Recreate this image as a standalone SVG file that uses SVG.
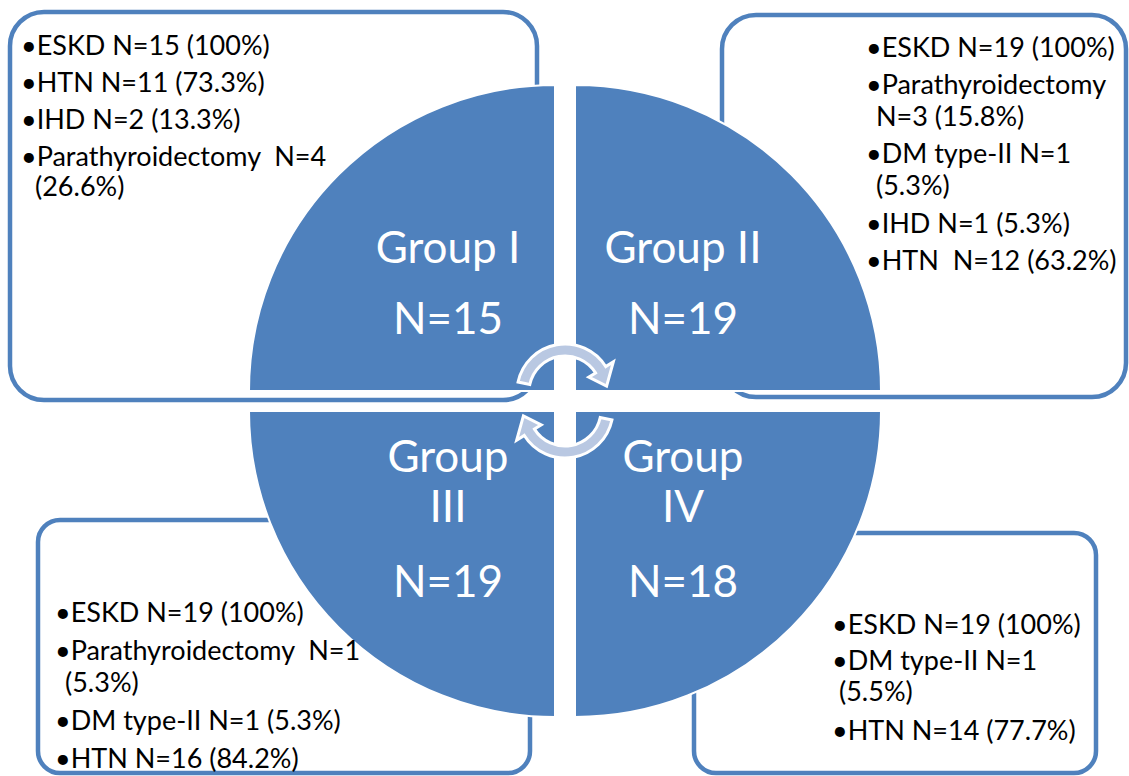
<svg xmlns="http://www.w3.org/2000/svg" width="1129" height="776" viewBox="0 0 1129 776">
<style>
.box{fill:#ffffff;stroke:#4F81BD;stroke-width:4.5}
.sector{fill:#4F81BD;stroke:#ffffff;stroke-width:2}
.t{font-family:Lato,"Open Sans",sans-serif;font-size:27px;fill:#000000;white-space:pre}
.g{font-family:Lato,"Open Sans",sans-serif;font-size:44px;fill:#ffffff;text-anchor:middle}
.arrow{fill:#B9C8E2;stroke:#ffffff;stroke-width:3;stroke-linejoin:miter}
</style>
<rect width="1129" height="776" fill="#ffffff"/>
<g id="node-1">
<rect class="box" x="10" y="12" width="527" height="388" rx="34" ry="34"/>
<path class="sector" d="M555,391 L249,391 A306,306 0 0,1 555,85 Z"/>
<text class="t" x="21" y="55">•ESKD N=15 (100%)</text>
<text class="t" x="21" y="92">•HTN N=11 (73.3%)</text>
<text class="t" x="21" y="129">•IHD N=2 (13.3%)</text>
<text class="t" x="21" y="166" xml:space="preserve">•Parathyroidectomy  N=4</text>
<text class="t" x="35" y="196">(26.6%)</text>
<text class="g" x="448" y="263">Group I</text>
<text class="g" x="448" y="334">N=15</text>
</g>
<g id="node-2">
<rect class="box" x="722" y="15" width="404" height="382" rx="34" ry="34"/>
<path class="sector" d="M575,391 L575,85 A306,306 0 0,1 881,391 Z"/>
<text class="t" x="866" y="57">•ESKD N=19 (100%)</text>
<text class="t" x="866" y="94">•Parathyroidectomy</text>
<text class="t" x="876" y="126">N=3 (15.8%)</text>
<text class="t" x="866" y="163">•DM type-II N=1</text>
<text class="t" x="876" y="195">(5.3%)</text>
<text class="t" x="866" y="233">•IHD N=1 (5.3%)</text>
<text class="t" x="866" y="270" xml:space="preserve">•HTN  N=12 (63.2%)</text>
<text class="g" x="683" y="263">Group II</text>
<text class="g" x="683" y="334">N=19</text>
</g>
<g id="node-3">
<rect class="box" x="38" y="520" width="492" height="253" rx="22" ry="22"/>
<path class="sector" d="M555,411 L555,717 A306,306 0 0,1 249,411 Z"/>
<text class="t" x="55" y="622">•ESKD N=19 (100%)</text>
<text class="t" x="55" y="660" xml:space="preserve">•Parathyroidectomy  N=1</text>
<text class="t" x="65" y="692">(5.3%)</text>
<text class="t" x="55" y="730">•DM type-II N=1 (5.3%)</text>
<text class="t" x="55" y="768">•HTN N=16 (84.2%)</text>
<text class="g" x="448" y="472">Group</text>
<text class="g" x="448" y="522">III</text>
<text class="g" x="448" y="597">N=19</text>
</g>
<g id="node-4">
<rect class="box" x="694" y="533" width="402" height="240" rx="22" ry="22"/>
<path class="sector" d="M575,411 L881,411 A306,306 0 0,1 575,717 Z"/>
<text class="t" x="832" y="634">•ESKD N=19 (100%)</text>
<text class="t" x="832" y="670">•DM type-II N=1</text>
<text class="t" x="839" y="701">(5.5%)</text>
<text class="t" x="832" y="740">•HTN N=14 (77.7%)</text>
<text class="g" x="683" y="472">Group</text>
<text class="g" x="683" y="522">IV</text>
<text class="g" x="683" y="597">N=18</text>
</g>
<g id="connectors">
<path id="arrow-top" class="arrow" d="M518.05,382.02 A48,48 0 0,1 605.70,366.56 L613.34,361.80 L606.59,386.15 L588.74,377.16 L595.53,372.92 A36,36 0 0,0 529.79,384.52 Z"/>
<path id="arrow-bottom" class="arrow" transform="rotate(180 565 401)" d="M518.05,382.02 A48,48 0 0,1 605.70,366.56 L613.34,361.80 L606.59,386.15 L588.74,377.16 L595.53,372.92 A36,36 0 0,0 529.79,384.52 Z"/>
</g>
</svg>
